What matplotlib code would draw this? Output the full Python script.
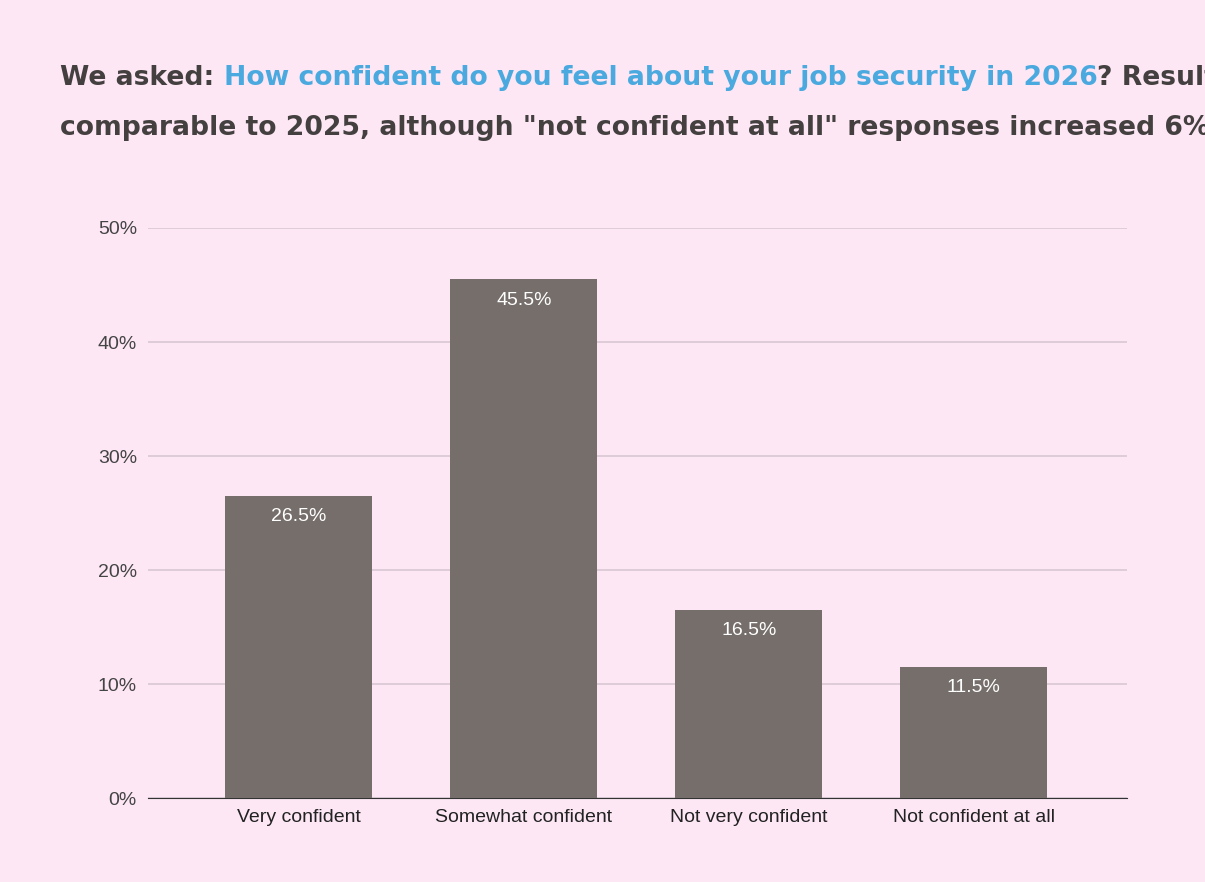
import matplotlib
matplotlib.use('Agg')
import matplotlib.pyplot as plt
import numpy as np

categories = ['Very confident', 'Somewhat confident', 'Not very confident', 'Not confident at all']
values = [26.5, 45.5, 16.5, 11.5]
y_ticks = [0, 10, 20, 30, 40, 50]

bg = '#fde7f4'
bar_color = '#756e6b'
grid_color = '#d8c8d4'
title_color = '#444040'
blue = '#4aa9de'

plt.rcParams['font.family'] = ['Liberation Sans', 'DejaVu Sans']

fig = plt.figure(figsize=(12.05, 8.82), dpi=100, facecolor=bg)
ax = fig.add_axes([0.1228, 0.0952, 0.8124, 0.6463])
ax.set_facecolor(bg)

x = np.arange(len(categories))
bars = ax.bar(x, values, width=0.653, color=bar_color, zorder=3)
for b, v in zip(bars, values):
    ax.text(b.get_x() + b.get_width() / 2, v - 1.1, '%.1f%%' % v, ha='center', va='top',
            color='white', fontsize=14, zorder=4)

ax.set_xlim(-0.671, 3.68)
ax.set_ylim(0, 50)
ax.set_yticks(y_ticks)
ax.set_yticklabels(['%d%%' % t for t in y_ticks], fontsize=14, color='#444444')
ax.set_xticks(x)
ax.set_xticklabels(categories, fontsize=14, color='#222222')
ax.yaxis.grid(True, color=grid_color, linewidth=1.2, zorder=0)
ax.tick_params(length=0, pad=8)
for s in ['top', 'right', 'left']:
    ax.spines[s].set_visible(False)
ax.spines['bottom'].set_color('#333333')

# title with coloured question part
tkw = dict(fontsize=19.2, fontweight='bold', family='DejaVu Sans')
t1 = fig.text(60 / 1205, 1 - 78 / 882, 'We asked: ', color=title_color, va='center', **tkw)
t2 = ax.annotate('How confident do you feel about your job security in 2026', xycoords=t1,
                 xy=(1, 0), va='bottom', color=blue, annotation_clip=False, **tkw)
ax.annotate('? Results are', xycoords=t2, xy=(1, 0), va='bottom', color=title_color,
            annotation_clip=False, **tkw)
fig.text(60 / 1205, 1 - 128 / 882,
         'comparable to 2025, although "not confident at all" responses increased 6%.',
         color=title_color, va='center', **tkw)

fig.savefig('out.png', dpi=100, facecolor=bg)
